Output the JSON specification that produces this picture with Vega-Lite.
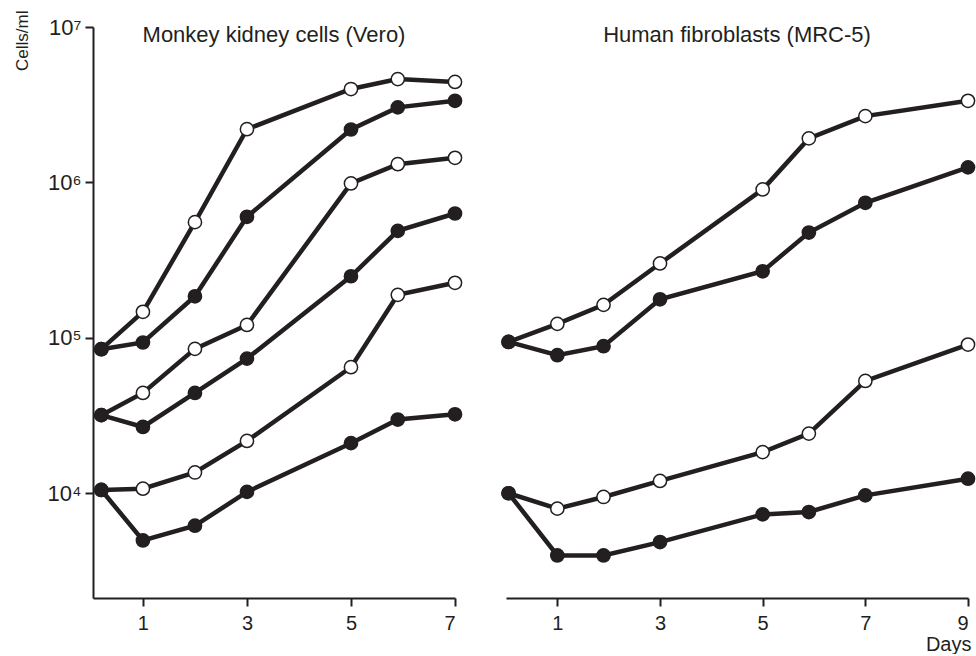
{
  "$schema": "https://vega.github.io/schema/vega-lite/v6.json",
  "background": "white",
  "padding": {"left": 13, "top": 10, "right": 2, "bottom": 0},
  "config": {
    "view": {"stroke": null},
    "font": "Liberation Sans",
    "axis": {
      "grid": false,
      "domainColor": "#231f20",
      "domainWidth": 2,
      "tickColor": "#231f20",
      "tickWidth": 2,
      "tickSize": 8,
      "labelColor": "#231f20",
      "labelFont": "Liberation Sans",
      "titleFont": "Liberation Sans",
      "titleColor": "#231f20",
      "titleFontWeight": "normal"
    }
  },
  "datasets": {
    "vero": [
      {"day": 0.2, "cells": 84500, "series": "V1o", "marker": "open"},
      {"day": 1, "cells": 147000, "series": "V1o", "marker": "open"},
      {"day": 2, "cells": 555000, "series": "V1o", "marker": "open"},
      {"day": 3, "cells": 2200000, "series": "V1o", "marker": "open"},
      {"day": 5, "cells": 3990000, "series": "V1o", "marker": "open"},
      {"day": 5.9, "cells": 4620000, "series": "V1o", "marker": "open"},
      {"day": 7, "cells": 4430000, "series": "V1o", "marker": "open"},
      {"day": 0.2, "cells": 31800, "series": "V2o", "marker": "open"},
      {"day": 1, "cells": 44200, "series": "V2o", "marker": "open"},
      {"day": 2, "cells": 84900, "series": "V2o", "marker": "open"},
      {"day": 3, "cells": 121000, "series": "V2o", "marker": "open"},
      {"day": 5, "cells": 985000, "series": "V2o", "marker": "open"},
      {"day": 5.9, "cells": 1310000, "series": "V2o", "marker": "open"},
      {"day": 7, "cells": 1440000, "series": "V2o", "marker": "open"},
      {"day": 0.2, "cells": 10500, "series": "V3o", "marker": "open"},
      {"day": 1, "cells": 10700, "series": "V3o", "marker": "open"},
      {"day": 2, "cells": 13600, "series": "V3o", "marker": "open"},
      {"day": 3, "cells": 21700, "series": "V3o", "marker": "open"},
      {"day": 5, "cells": 64700, "series": "V3o", "marker": "open"},
      {"day": 5.9, "cells": 189000, "series": "V3o", "marker": "open"},
      {"day": 7, "cells": 226000, "series": "V3o", "marker": "open"},
      {"day": 0.2, "cells": 84500, "series": "V1f", "marker": "filled"},
      {"day": 1, "cells": 93300, "series": "V1f", "marker": "filled"},
      {"day": 2, "cells": 185000, "series": "V1f", "marker": "filled"},
      {"day": 3, "cells": 601000, "series": "V1f", "marker": "filled"},
      {"day": 5, "cells": 2190000, "series": "V1f", "marker": "filled"},
      {"day": 5.9, "cells": 3040000, "series": "V1f", "marker": "filled"},
      {"day": 7, "cells": 3350000, "series": "V1f", "marker": "filled"},
      {"day": 0.2, "cells": 31800, "series": "V2f", "marker": "filled"},
      {"day": 1, "cells": 26700, "series": "V2f", "marker": "filled"},
      {"day": 2, "cells": 44200, "series": "V2f", "marker": "filled"},
      {"day": 3, "cells": 73500, "series": "V2f", "marker": "filled"},
      {"day": 5, "cells": 249000, "series": "V2f", "marker": "filled"},
      {"day": 5.9, "cells": 488000, "series": "V2f", "marker": "filled"},
      {"day": 7, "cells": 631000, "series": "V2f", "marker": "filled"},
      {"day": 0.2, "cells": 10500, "series": "V3f", "marker": "filled"},
      {"day": 1, "cells": 4970, "series": "V3f", "marker": "filled"},
      {"day": 2, "cells": 6180, "series": "V3f", "marker": "filled"},
      {"day": 3, "cells": 10200, "series": "V3f", "marker": "filled"},
      {"day": 5, "cells": 21000, "series": "V3f", "marker": "filled"},
      {"day": 5.9, "cells": 29800, "series": "V3f", "marker": "filled"},
      {"day": 7, "cells": 32200, "series": "V3f", "marker": "filled"}
    ],
    "mrc5": [
      {"day": 0.05, "cells": 94100, "series": "M1o", "marker": "open"},
      {"day": 1, "cells": 123000, "series": "M1o", "marker": "open"},
      {"day": 1.9, "cells": 163000, "series": "M1o", "marker": "open"},
      {"day": 3, "cells": 301000, "series": "M1o", "marker": "open"},
      {"day": 5, "cells": 901000, "series": "M1o", "marker": "open"},
      {"day": 5.9, "cells": 1920000, "series": "M1o", "marker": "open"},
      {"day": 7, "cells": 2670000, "series": "M1o", "marker": "open"},
      {"day": 9, "cells": 3350000, "series": "M1o", "marker": "open"},
      {"day": 0.05, "cells": 10000, "series": "M2o", "marker": "open"},
      {"day": 1, "cells": 7960, "series": "M2o", "marker": "open"},
      {"day": 1.9, "cells": 9460, "series": "M2o", "marker": "open"},
      {"day": 3, "cells": 12000, "series": "M2o", "marker": "open"},
      {"day": 5, "cells": 18400, "series": "M2o", "marker": "open"},
      {"day": 5.9, "cells": 24200, "series": "M2o", "marker": "open"},
      {"day": 7, "cells": 52800, "series": "M2o", "marker": "open"},
      {"day": 9, "cells": 90500, "series": "M2o", "marker": "open"},
      {"day": 0.05, "cells": 94100, "series": "M1f", "marker": "filled"},
      {"day": 1, "cells": 77300, "series": "M1f", "marker": "filled"},
      {"day": 1.9, "cells": 88300, "series": "M1f", "marker": "filled"},
      {"day": 3, "cells": 177000, "series": "M1f", "marker": "filled"},
      {"day": 5, "cells": 268000, "series": "M1f", "marker": "filled"},
      {"day": 5.9, "cells": 476000, "series": "M1f", "marker": "filled"},
      {"day": 7, "cells": 739000, "series": "M1f", "marker": "filled"},
      {"day": 9, "cells": 1250000, "series": "M1f", "marker": "filled"},
      {"day": 0.05, "cells": 10000, "series": "M2f", "marker": "filled"},
      {"day": 1, "cells": 3980, "series": "M2f", "marker": "filled"},
      {"day": 1.9, "cells": 3980, "series": "M2f", "marker": "filled"},
      {"day": 3, "cells": 4850, "series": "M2f", "marker": "filled"},
      {"day": 5, "cells": 7310, "series": "M2f", "marker": "filled"},
      {"day": 5.9, "cells": 7570, "series": "M2f", "marker": "filled"},
      {"day": 7, "cells": 9690, "series": "M2f", "marker": "filled"},
      {"day": 9, "cells": 12400, "series": "M2f", "marker": "filled"}
    ]
  },
  "bounds": "flush",
  "spacing": 51,
  "hconcat": [
    {
      "width": 362,
      "height": 571,
      "encoding": {
        "x": {"field": "day", "type": "quantitative",
              "scale": {"domain": [0.04, 7], "nice": false, "zero": false},
              "axis": {"values": [1, 3, 5, 7], "title": null, "labelFontSize": 20, "labelPadding": 7}},
        "y": {"field": "cells", "type": "quantitative",
              "scale": {"type": "log", "domain": [2118, 10000000], "nice": false},
              "axis": {"values": [10000, 100000, 1000000, 10000000],
                       "labelExpr": "'10' + (datum.value < 50000 ? '⁴' : datum.value < 500000 ? '⁵' : datum.value < 5000000 ? '⁶' : '⁷')",
                       "labelFontSize": 22, "labelPadding": 4,
                       "title": "Cells/ml", "titleFontSize": 17, "titleAngle": -90,
                       "titleAlign": "right", "titleBaseline": "alphabetic",
                       "titleX": -66, "titleY": -17}}
      },
      "layer": [
        {"data": {"name": "vero"},
         "mark": {"type": "line", "color": "#231f20", "strokeWidth": 4.5},
         "encoding": {"detail": {"field": "series"}}},
        {"data": {"name": "vero"},
         "mark": {"type": "point", "shape": "circle", "size": 175, "stroke": "#231f20", "strokeWidth": 1.5, "opacity": 1, "filled": true},
         "encoding": {"fill": {"field": "marker", "type": "nominal",
                               "scale": {"domain": ["open", "filled"], "range": ["white", "#231f20"]},
                               "legend": null}}},
        {"data": {"values": [{"panel": "Monkey kidney cells (Vero)", "day": 3.52, "cells": 8000000}]},
         "mark": {"type": "text", "fontSize": 22, "color": "#231f20", "baseline": "alphabetic", "align": "center"},
         "encoding": {"text": {"field": "panel"}}}
      ]
    },
    {
      "width": 462,
      "height": 571,
      "encoding": {
        "x": {"field": "day", "type": "quantitative",
              "scale": {"domain": [0, 9], "nice": false, "zero": false},
              "axis": {"values": [1, 3, 5, 7, 9], "labelFontSize": 20, "labelPadding": 7,
                       "title": "Days", "titleFontSize": 20, "titleAlign": "right", "titleAnchor": "end",
                       "titleBaseline": "alphabetic", "titleX": 465, "titleY": 52}},
        "y": {"field": "cells", "type": "quantitative",
              "scale": {"type": "log", "domain": [2118, 10000000], "nice": false},
              "axis": null}
      },
      "layer": [
        {"data": {"name": "mrc5"},
         "mark": {"type": "line", "color": "#231f20", "strokeWidth": 4.5},
         "encoding": {"detail": {"field": "series"}}},
        {"data": {"name": "mrc5"},
         "mark": {"type": "point", "shape": "circle", "size": 175, "stroke": "#231f20", "strokeWidth": 1.5, "opacity": 1, "filled": true},
         "encoding": {"fill": {"field": "marker", "type": "nominal",
                               "scale": {"domain": ["open", "filled"], "range": ["white", "#231f20"]},
                               "legend": null}}},
        {"data": {"values": [{"panel": "Human fibroblasts (MRC-5)", "day": 4.5, "cells": 8000000}]},
         "mark": {"type": "text", "fontSize": 22, "color": "#231f20", "baseline": "alphabetic", "align": "center"},
         "encoding": {"text": {"field": "panel"}}}
      ]
    }
  ]
}
